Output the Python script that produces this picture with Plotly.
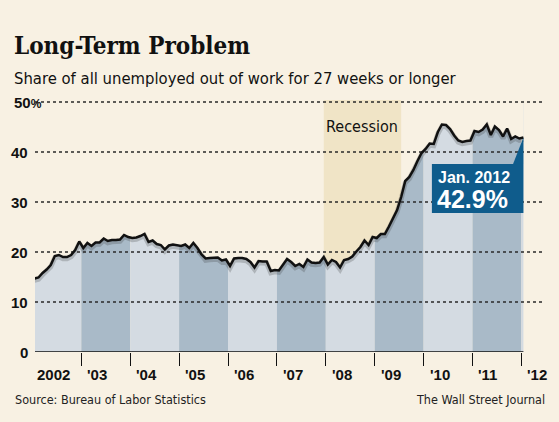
import plotly.graph_objects as go

# share of unemployed out of work 27+ weeks, monthly Jan 2002 .. Jan 2012 (%)
share = [
    14.7, 14.9, 15.8, 16.5, 17.4, 19.2, 19.4, 19.0, 19.0, 19.4, 20.4, 22.1,  # 2002
    20.8, 21.8, 21.2, 21.9, 21.9, 22.7, 22.2, 22.4, 22.4, 22.5, 23.4, 23.0,  # 2003
    22.8, 22.9, 23.2, 23.6, 22.0, 22.3, 21.6, 21.4, 20.5, 21.3, 21.5, 21.4,  # 2004
    21.2, 21.5, 20.8, 21.8, 20.8, 19.5, 18.7, 18.8, 18.9, 18.9, 18.3, 18.5,  # 2005
    17.2, 18.7, 18.8, 18.8, 18.6, 18.0, 16.9, 18.2, 18.1, 18.1, 16.2, 16.4,  # 2006
    16.3, 17.5, 18.6, 18.0, 17.2, 17.6, 17.0, 18.5, 17.9, 17.8, 17.9, 19.0,  # 2007
    17.5, 18.4, 18.0, 16.9, 18.4, 18.6, 19.1, 20.1, 21.0, 22.3, 21.4, 23.0,  # 2008
    22.8, 23.6, 23.6, 25.1, 26.9, 28.4, 31.0, 34.2, 35.0, 36.4, 38.2, 39.8,  # 2009
    40.6, 41.7, 41.6, 44.0, 45.5, 45.4, 44.6, 43.3, 42.3, 42.0, 42.2, 42.3,  # 2010
    44.2, 44.0, 44.5, 45.5, 43.4, 45.1, 44.4, 43.1, 44.7, 42.6, 43.1, 42.7,  # 2011
    42.9,                                                                    # 2012
]
start_year = 2002
# x position = middle of each month
months = [start_year + (i + 0.5) / 12 for i in range(len(share))]

years = list(range(2002, 2013))
year_labels = ["2002", "'03", "'04", "'05", "'06", "'07", "'08", "'09", "'10", "'11", "'12"]
y_ticks = [0, 10, 20, 30, 40, 50]
y_labels = ["0", "10", "20", "30", "40", "50<span style='font-size:12px'>%</span>"]

# recession: Dec 2007 .. Jun 2009 (month indexes)
rec_start, rec_end = 71, 90

callout_date = "Jan. 2012"
callout_value = "42.9%"

BG = "#F8F1E3"
TAN = "#F0E4C6"
LIGHT = "#D4DBE2"
DARK = "#A9BAC8"
BLUE = "#0F5C8C"
COND = "DejaVu Sans Condensed, Liberation Sans, sans-serif"
SANS = "Liberation Sans, Arial, sans-serif"

X_RANGE = [2002.053, 2012.442]
Y_MAX = 50.4

fig = go.Figure()

# cream cover above the line (hides the year bands up there)
fig.add_trace(go.Scatter(x=months, y=[Y_MAX] * len(months), mode="lines",
                         line=dict(width=0), hoverinfo="skip"))
fig.add_trace(go.Scatter(x=months, y=share, mode="lines", fill="tonexty",
                         fillcolor=BG, line=dict(width=0), hoverinfo="skip"))

# recession band above the line
rx = months[rec_start:rec_end + 1]
ry = share[rec_start:rec_end + 1]
fig.add_trace(go.Scatter(x=rx, y=[Y_MAX] * len(rx), mode="lines",
                         line=dict(width=0), hoverinfo="skip"))
fig.add_trace(go.Scatter(x=rx, y=ry, mode="lines", fill="tonexty",
                         fillcolor=TAN, line=dict(width=0), hoverinfo="skip"))

# dotted gridlines
for v in y_ticks[1:]:
    fig.add_trace(go.Scatter(x=X_RANGE, y=[v, v], mode="lines", hoverinfo="skip",
                             line=dict(color="#2a2a2a", width=1.6, dash="dot")))

# soft shadow + line
fig.add_trace(go.Scatter(x=months, y=[v - 0.35 for v in share], mode="lines",
                         line=dict(color="rgba(40,40,40,0.22)", width=5),
                         hoverinfo="skip"))
fig.add_trace(go.Scatter(x=months, y=share, mode="lines",
                         line=dict(color="#111111", width=2.5)))

shapes = []
# alternating year bands under the line
for n, yr in enumerate(years):
    x0 = max(yr, months[0])
    x1 = min(yr + 1, months[-1])
    if x1 <= x0:
        continue
    shapes.append(dict(type="rect", layer="below", xref="x", yref="y",
                       x0=x0, x1=x1, y0=0, y1=Y_MAX, line=dict(width=0),
                       fillcolor=LIGHT if n % 2 == 0 else DARK))
# baseline
shapes.append(dict(type="line", xref="x", yref="y", layer="above",
                   x0=months[0] - 0.03, x1=months[-1], y0=0, y1=0,
                   line=dict(color="#111111", width=1.6)))
# callout box with pointer to the last point
bx0, by0, by1 = 2010.17, 27.8, 37.6
shapes.append(dict(type="rect", xref="x", yref="y", layer="above",
                   x0=bx0, x1=months[-1], y0=by0, y1=by1,
                   fillcolor=BLUE, line=dict(width=0)))
shapes.append(dict(type="path", xref="x", yref="y", layer="above",
                   path=f"M 2011.83 {by1} L {months[-1]} {share[-1]} L {months[-1]} {by1} Z",
                   fillcolor=BLUE, line=dict(width=0)))

annotations = []
annotations.append(dict(text="Long-Term Problem", xref="paper", yref="paper",
                        x=-0.046, y=1.218, xanchor="left", yanchor="middle", showarrow=False,
                        font=dict(family="DejaVu Serif Condensed, DejaVu Serif, serif",
                                  size=24, color="#111111", weight="bold")))
annotations.append(dict(text="Share of all unemployed out of work for 27 weeks or longer",
                        xref="paper", yref="paper", x=-0.046, y=1.087,
                        xanchor="left", yanchor="middle", showarrow=False,
                        font=dict(family=COND, size=16.5, color="#111111")))
annotations.append(dict(text="Source: Bureau of Labor Statistics", xref="paper", yref="paper",
                        x=-0.043, y=-0.187, xanchor="left", yanchor="middle", showarrow=False,
                        font=dict(family=COND, size=12.5, color="#222222")))
annotations.append(dict(text="The Wall Street Journal", xref="paper", yref="paper",
                        x=1.008, y=-0.187, xanchor="right", yanchor="middle", showarrow=False,
                        font=dict(family=COND, size=12.5, color="#222222")))

for v, lab in zip(y_ticks, y_labels):
    if "%" in lab:
        pos = dict(xanchor="left", xshift=-23)
    else:
        pos = dict(xanchor="right", xshift=-5)
    annotations.append(dict(text=lab, xref="paper", yref="y", x=0, y=v,
                            yanchor="middle", showarrow=False,
                            font=dict(family=SANS, size=15, color="#111111", weight="bold"),
                            **pos))

for yr, lab in zip(years, year_labels):
    if yr == years[0]:
        pos = dict(x=yr + 1, xanchor="right", xshift=-9)
    else:
        pos = dict(x=yr, xanchor="left", xshift=4)
    annotations.append(dict(text=lab, xref="x", yref="paper", y=-0.091, yanchor="middle",
                            showarrow=False,
                            font=dict(family=SANS, size=15, color="#111111", weight="bold"),
                            **pos))

annotations.append(dict(text="Recession", xref="x", yref="y",
                        x=(months[rec_start] + months[rec_end]) / 2, y=45.2,
                        xanchor="center", yanchor="middle", showarrow=False,
                        font=dict(family=COND, size=16, color="#111111")))
annotations.append(dict(text=callout_date, xref="x", yref="y", x=bx0, y=35.0,
                        xanchor="left", xshift=4, yanchor="middle", showarrow=False,
                        font=dict(family=SANS, size=16, color="white", weight="bold")))
annotations.append(dict(text=callout_value, xref="x", yref="y", x=bx0, y=30.6,
                        xanchor="left", xshift=3, yanchor="middle", showarrow=False,
                        font=dict(family=SANS, size=25, color="white", weight="bold")))

fig.update_layout(
    width=559, height=422,
    margin=dict(l=35, r=16, t=100, b=70, pad=0),
    paper_bgcolor=BG, plot_bgcolor=BG,
    showlegend=False,
    shapes=shapes,
    annotations=annotations,
    xaxis=dict(range=X_RANGE, showgrid=False, zeroline=False, showline=False,
               tickvals=years[1:], ticks="outside", ticklen=13, tickwidth=1,
               tickcolor="#111111", showticklabels=False, fixedrange=True),
    yaxis=dict(range=[0, Y_MAX], showgrid=False, zeroline=False, showline=False,
               showticklabels=False, fixedrange=True),
)

fig.write_html("out.html", config={"displayModeBar": False},
               post_script="document.body.style.margin='0';")
